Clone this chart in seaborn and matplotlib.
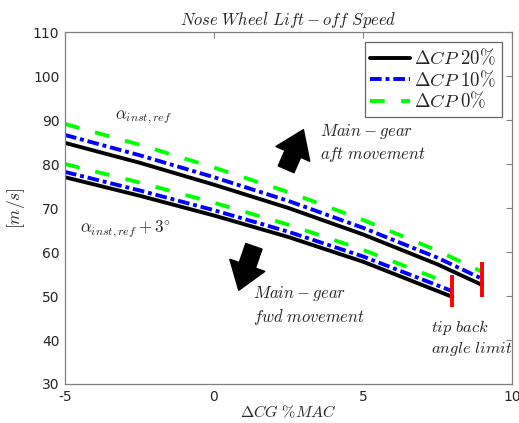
import numpy as np
import pandas as pd
import matplotlib
matplotlib.use("Agg")
import matplotlib.pyplot as plt
import seaborn as sns

# ---- data ----
x_ref = [-5, -2.5, 0, 2.5, 5, 7.5, 9]
ref_cp20 = [84.8, 80.3, 75.3, 70.0, 64.0, 57.2, 52.5]
ref_cp10 = [86.6, 82.0, 77.0, 71.6, 65.5, 58.7, 53.9]
ref_cp0 = [89.1, 84.4, 79.2, 73.6, 67.3, 60.3, 55.5]

x_ref3 = [-5, -2.5, 0, 2.5, 5, 8]
ref3_cp20 = [77.0, 72.8, 68.3, 63.4, 57.8, 49.8]
ref3_cp10 = [78.2, 74.0, 69.5, 64.6, 59.0, 51.1]
ref3_cp0 = [80.0, 75.8, 71.2, 66.2, 60.5, 52.6]

limit_x = [8, 9]
limit_lo = [47.5, 49.8]
limit_hi = [54.8, 57.7]

series_labels = [r"$\Delta CP\ 20\%$", r"$\Delta CP\ 10\%$", r"$\Delta CP\ 0\%$"]
x_ticks = [-5, 0, 5, 10]
y_ticks = [30, 40, 50, 60, 70, 80, 90, 100, 110]

sns.set_style("white")
plt.rcParams["mathtext.fontset"] = "cm"
plt.rcParams["font.family"] = ["DejaVu Sans"]

fig = plt.figure(figsize=(5.19, 4.23), dpi=100)
ax = fig.add_axes([0.1252, 0.0922, 0.8613, 0.8321])

colors = ["black", "#0000ff", "#00ff00"]
styles = ["-", (0, (3, 1, 1, 1)), (0, (3.8, 4.2))]
lw = 2.8

ref_groups = [ref_cp20, ref_cp10, ref_cp0]
ref3_groups = [ref3_cp20, ref3_cp10, ref3_cp0]

for vals, c, ls, lab in zip(ref_groups, colors, styles, series_labels):
    df = pd.DataFrame({"x": x_ref, "y": vals})
    sns.lineplot(data=df, x="x", y="y", ax=ax, color=c, linestyle=ls, lw=lw,
                 label=lab, sort=True, estimator=None)
for vals, c, ls in zip(ref3_groups, colors, styles):
    df = pd.DataFrame({"x": x_ref3, "y": vals})
    sns.lineplot(data=df, x="x", y="y", ax=ax, color=c, linestyle=ls, lw=lw,
                 label="_nolegend_", sort=True, estimator=None)

ax.vlines(limit_x, limit_lo, limit_hi, colors="#ff0000", lw=2.8)

ax.set_xlim(-5, 10)
ax.set_ylim(30, 110)
ax.set_xticks(x_ticks)
ax.set_yticks(y_ticks)
ax.set_xticklabels([str(t) for t in x_ticks])
ax.set_yticklabels([str(t) for t in y_ticks])
ax.tick_params(direction="in", length=4, width=0.8, top=True, right=True,
               labelsize=10, colors="#262626", pad=4)
ax.tick_params(axis="both", which="both", color="#808080")
for sp in ax.spines.values():
    sp.set_visible(True)
    sp.set_color("#808080")
    sp.set_linewidth(0.9)

ax.set_title(r"$Nose\ Wheel\ Lift-off\ Speed$", fontsize=12, pad=5)
ax.set_xlabel(r"$\Delta CG\ \%MAC$", fontsize=11.5, labelpad=0, color="#262626")
ax.set_ylabel(r"$[m/s]$", fontsize=12.5, labelpad=4, color="#262626")

leg = ax.legend(loc="upper right", fontsize=13.5, handlelength=2.1,
                fancybox=False, frameon=True, borderaxespad=0.55,
                borderpad=0.3, labelspacing=0.05, handletextpad=0.25)
leg.get_frame().set_edgecolor("#404040")
leg.get_frame().set_linewidth(0.9)

ax.text(-3.32, 90.7, r"$\alpha_{inst,ref}$", fontsize=12.3, va="center", ha="left")
ax.text(-4.5, 65.2, r"$\alpha_{inst,ref}+3^{\circ}$", fontsize=12.3, va="center", ha="left")
ax.text(3.56, 84.8, "$Main-gear$\n$aft\\ movement$", fontsize=12,
        va="center", ha="left", multialignment="left", linespacing=1.25)
ax.text(1.31, 47.8, "$Main-gear$\n$fwd\\ movement$", fontsize=12,
        va="center", ha="left", multialignment="left", linespacing=1.25)
ax.text(7.28, 40.5, "$tip\\ back$\n$angle\\ limit$", fontsize=11.8,
        va="center", ha="left", multialignment="left", linespacing=1.25)

arrow_kw = dict(arrowstyle="simple,head_width=1.4,head_length=1.0,tail_width=0.65",
                color="black", shrinkA=0, shrinkB=0, mutation_scale=19)
ax.annotate("", xy=(3.0, 87.8), xytext=(2.42, 78.8), arrowprops=arrow_kw)
ax.annotate("", xy=(0.83, 51.3), xytext=(1.34, 61.3), arrowprops=arrow_kw)

fig.savefig("out.png", dpi=100)
